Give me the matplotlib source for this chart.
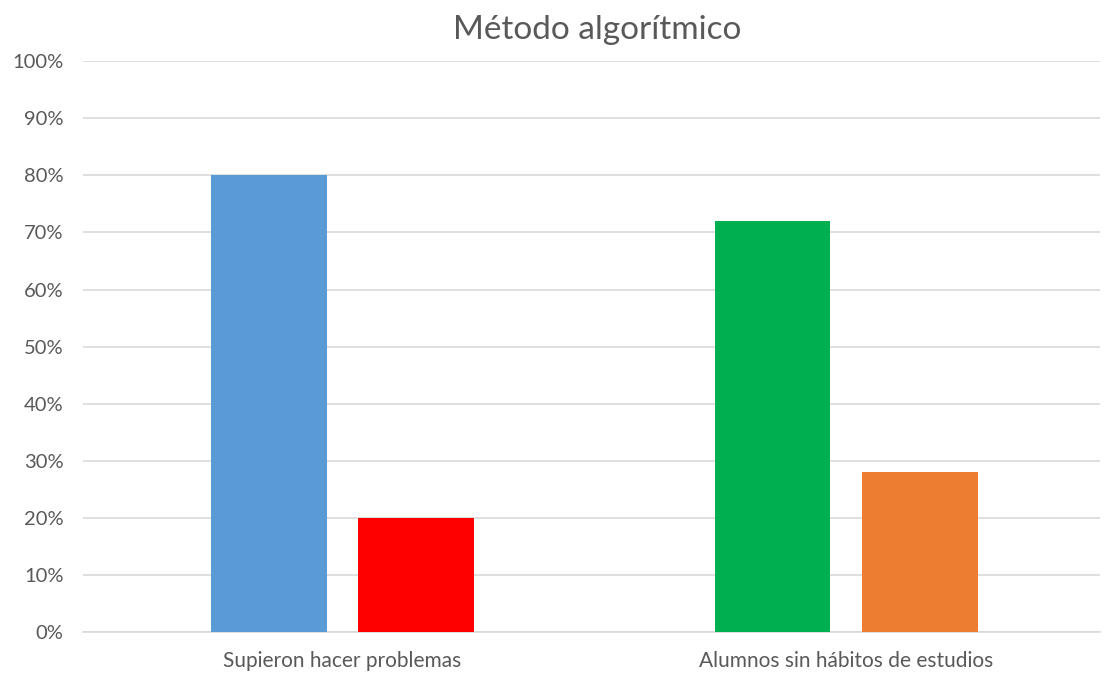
import numpy as np
import matplotlib.pyplot as plt
from matplotlib.ticker import PercentFormatter

# datos del gráfico
categorias = ['Supieron hacer problemas', 'Alumnos sin hábitos de estudios']
primera = [80, 72]    # barra izquierda de cada grupo
segunda = [20, 28]    # barra derecha de cada grupo
colores_primera = ['#5B9BD5', '#00B050']
colores_segunda = ['#FF0000', '#ED7D31']
ticks_y = np.arange(0, 101, 10)

plt.rcParams['font.family'] = ['Lato', 'DejaVu Sans']
gris = '#595959'

fig = plt.figure(figsize=(11.06, 6.73), dpi=100)
ax = fig.add_axes([0.075, 0.061, 0.92, 0.848])

x = np.arange(len(categorias))
ancho = 0.23
desp = 0.146
ax.bar(x - desp, primera, ancho, color=colores_primera, zorder=3)
ax.bar(x + desp, segunda, ancho, color=colores_segunda, zorder=3)

ax.set_xlim(-0.515, 1.505)
ax.set_ylim(0, 100)
ax.set_yticks(ticks_y)
ax.yaxis.set_major_formatter(PercentFormatter(decimals=0))
ax.set_xticks(x)
ax.set_xticklabels(categorias)
ax.grid(axis='y', color='#D9D9D9', linewidth=1.2, zorder=0)
for s in ['top', 'right', 'left']:
    ax.spines[s].set_visible(False)
ax.spines['bottom'].set_color('#D9D9D9')
ax.spines['bottom'].set_linewidth(1.2)
ax.tick_params(axis='both', length=0, colors=gris, labelsize=14.5)
ax.tick_params(axis='x', pad=14, labelsize=15)
ax.tick_params(axis='y', pad=14)

fig.text(0.54, 0.942, 'Método algorítmico', ha='center', va='baseline',
         fontsize=24, color=gris)

fig.savefig('out.png', dpi=100)
